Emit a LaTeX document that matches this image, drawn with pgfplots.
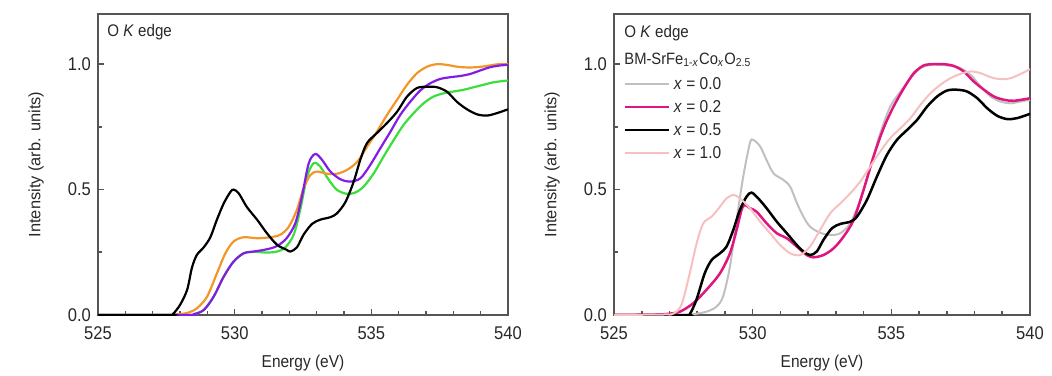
\documentclass[border=0pt]{standalone}
\usepackage{pgfplots}
\pgfplotsset{compat=1.18}
\usepackage{fontspec}
\setmainfont[FakeStretch=0.9]{Liberation Sans}
\newfontfamily\ylabfont{Liberation Sans}
\definecolor{cOr}{RGB}{243,150,42}
\definecolor{cPu}{RGB}{130,30,228}
\definecolor{cGr}{RGB}{60,222,60}
\definecolor{cGy}{RGB}{192,192,192}
\definecolor{cMa}{RGB}{224,22,128}
\definecolor{cPk}{RGB}{246,192,192}
\definecolor{cAx}{RGB}{85,85,85}
\definecolor{cTx}{RGB}{40,40,40}
\pgfplotsset{
  common/.style={
    scale only axis, height=150.5pt,
    xmin=525, xmax=540, ymin=0, ymax=1.2,
    xtick={525,530,535,540}, minor xtick={526,527,528,529,531,532,533,534,536,537,538,539},
    ytick={0,0.5,1}, minor ytick={0.25,0.75},
    xtick pos=left, ytick pos=left,
    tickwidth=3.2pt, subtickwidth=2.2pt,
    axis line style={draw=cAx, line width=0.75pt},
    tick style={draw=cAx, line width=0.8pt},
    /pgf/number format/assume math mode=true,
    x tick label style={/pgf/number format/set thousands separator={}, yshift=-2.5pt},
    y tick label style={/pgf/number format/.cd, fixed, fixed zerofill, precision=1, /tikz/.cd},
    tick label style={font=\fontsize{9.2}{10}\selectfont, text=cTx},
    xlabel={Energy (eV)}, ylabel={Intensity (arb. units)},
    xlabel style={font=\fontsize{8.6}{9}\selectfont, text=cTx, at={(axis description cs:0.5,-0.1595)}, anchor=center},
    ylabel style={font=\ylabfont\fontsize{8.2}{9}\selectfont, text=cTx, anchor=center},
  },
  every axis plot/.append style={smooth, tension=0.5, no markers},
}
\begin{document}
\begin{tikzpicture}
\useasboundingbox (0,0) rectangle (526pt,187.5pt);
% ---------------- left panel
\begin{axis}[common, width=205pt, at={(49pt,30pt)}, anchor=south west,
  ylabel style={at={(axis description cs:-0.151,0.5)}}]
\node[anchor=west, inner sep=0pt, font=\fontsize{8.4}{9}\selectfont, text=cTx] at ([xshift=4.5pt,yshift=-9pt]rel axis cs:0,1) {O \textit{K} edge};
\addplot[cGr, line width=1.1pt] coordinates {(525,0) (528.2,0) (528.5,0.003) (528.87,0.02) (529.23,0.073) (529.6,0.153) (529.96,0.213) (530.33,0.246) (530.7,0.252) (531.18,0.249) (531.55,0.253) (531.85,0.269) (532.16,0.32) (532.4,0.42) (532.65,0.552) (532.89,0.605) (533.13,0.592) (533.44,0.539) (533.74,0.499) (534.1,0.483) (534.41,0.488) (534.72,0.512) (535.09,0.565) (535.45,0.632) (535.82,0.698) (536.18,0.758) (536.55,0.805) (536.91,0.844) (537.28,0.871) (537.65,0.884) (538.01,0.891) (538.38,0.898) (538.74,0.908) (539.11,0.918) (539.48,0.928) (540,0.935)};
\addplot[cOr, line width=1.1pt] coordinates {(525,0) (527.5,0) (527.8,0.002) (528.26,0.008) (528.62,0.027) (528.99,0.073) (529.35,0.166) (529.66,0.246) (529.96,0.293) (530.33,0.31) (530.82,0.306) (531.3,0.31) (531.67,0.32) (531.98,0.352) (532.28,0.42) (532.52,0.505) (532.77,0.558) (533.01,0.572) (533.38,0.563) (533.74,0.563) (534.1,0.578) (534.48,0.61) (534.84,0.67) (535.2,0.73) (535.57,0.797) (535.94,0.858) (536.3,0.917) (536.67,0.964) (537.04,0.99) (537.4,1.0) (537.77,0.997) (538.13,0.99) (538.5,0.987) (538.87,0.988) (539.23,0.993) (539.66,1.0) (540,1.0)};
\addplot[cPu, line width=1.1pt] coordinates {(525,0) (528.2,0) (528.5,0.003) (528.87,0.02) (529.23,0.073) (529.6,0.153) (529.96,0.213) (530.33,0.246) (530.7,0.253) (531.18,0.262) (531.55,0.275) (531.9,0.306) (532.22,0.366) (532.46,0.472) (532.71,0.605) (532.95,0.642) (533.2,0.618) (533.5,0.572) (533.87,0.541) (534.23,0.532) (534.6,0.545) (534.96,0.598) (535.33,0.665) (535.7,0.731) (536.06,0.798) (536.43,0.851) (536.79,0.895) (537.16,0.924) (537.52,0.941) (537.89,0.948) (538.26,0.953) (538.62,0.961) (538.99,0.975) (539.35,0.988) (539.72,0.995) (540,0.997)};
\addplot[black, line width=1.1pt] coordinates {(525,0) (527.6,0) (527.75,0.005) (528.0,0.04) (528.26,0.10) (528.44,0.19) (528.62,0.24) (528.87,0.27) (529.11,0.31) (529.35,0.38) (529.6,0.445) (529.84,0.49) (529.96,0.50) (530.15,0.485) (530.45,0.43) (530.82,0.38) (531.18,0.326) (531.55,0.28) (531.9,0.26) (532.04,0.253) (532.28,0.27) (532.52,0.32) (532.83,0.363) (533.13,0.38) (533.5,0.39) (533.74,0.405) (534.05,0.45) (534.35,0.53) (534.6,0.62) (534.84,0.685) (535.2,0.725) (535.57,0.765) (535.94,0.81) (536.3,0.87) (536.67,0.905) (537.04,0.91) (537.4,0.908) (537.77,0.89) (538.13,0.85) (538.5,0.82) (538.87,0.80) (539.23,0.795) (539.6,0.805) (540,0.82)};
\end{axis}
% ---------------- right panel
\begin{axis}[common, width=208pt, at={(307pt,30pt)}, anchor=south west,
  ylabel style={at={(axis description cs:-0.149,0.5)}},
  legend cell align=left,
  legend image code/.code={\draw[#1, sharp plot] (0pt,0pt) -- (22pt,0pt);},
  legend style={at={(axis description cs:0,1)}, anchor=north west, xshift=4.5pt, yshift=-31pt,
    draw=none, fill=none, inner sep=0pt, row sep=4pt,
    font=\fontsize{8.6}{9}\selectfont, text=cTx,
    nodes={inner sep=0pt, text height=6.5pt, text depth=1pt},
    /tikz/every odd column/.append style={column sep=2pt}}]
\node[anchor=west, inner sep=0pt, font=\fontsize{8.4}{9}\selectfont, text=cTx] at ([xshift=5pt,yshift=-9.5pt]rel axis cs:0,1) {O \textit{K} edge};
\node[anchor=west, inner sep=0pt, font=\fontsize{8.2}{9}\selectfont, text=cTx] at ([xshift=5pt,yshift=-23pt]rel axis cs:0,1) {BM-SrFe\textsubscript{1-\textit{x}}Co\textsubscript{\textit{x}}O\textsubscript{2.5}};
\addplot[cGy, line width=1.0pt] coordinates {(525,0) (527.6,0) (527.85,0.003) (528.33,0.013) (528.69,0.033) (528.93,0.073) (529.18,0.193) (529.42,0.379) (529.66,0.552) (529.9,0.685) (530.02,0.698) (530.27,0.672) (530.5,0.618) (530.75,0.565) (531.1,0.539) (531.35,0.512) (531.6,0.445) (531.83,0.392) (532.07,0.352) (532.43,0.328) (532.8,0.319) (533.16,0.326) (533.52,0.366) (533.88,0.459) (534.24,0.592) (534.6,0.725) (534.96,0.831) (535.33,0.891) (535.69,0.944) (536.05,0.984) (536.41,0.997) (536.77,0.997) (537.13,0.993) (537.49,0.984) (537.86,0.957) (538.22,0.911) (538.58,0.871) (538.94,0.851) (539.3,0.844) (539.66,0.851) (540,0.858)};
\addlegendentry{\textit{x} = 0.0}
\addplot[cMa, line width=1.25pt] coordinates {(525,0) (526.5,0.002) (526.9,0.004) (527.37,0.013) (527.86,0.047) (528.33,0.1) (528.82,0.166) (529.18,0.246) (529.42,0.339) (529.6,0.419) (529.72,0.439) (529.9,0.426) (530.14,0.412) (530.5,0.366) (530.87,0.326) (531.23,0.306) (531.59,0.273) (531.95,0.239) (532.19,0.23) (532.55,0.239) (532.92,0.266) (533.28,0.313) (533.64,0.379) (534.0,0.499) (534.36,0.632) (534.72,0.745) (535.08,0.831) (535.45,0.904) (535.81,0.964) (536.17,0.995) (536.53,1.0) (536.89,1.0) (537.25,0.993) (537.61,0.971) (537.97,0.931) (538.34,0.898) (538.7,0.871) (539.06,0.858) (539.42,0.854) (540,0.864)};
\addlegendentry{\textit{x} = 0.2}
\addplot[black, line width=1.25pt] coordinates {(525,0) (527.6,0) (527.73,0.003) (527.97,0.06) (528.27,0.166) (528.52,0.219) (528.82,0.246) (529.06,0.273) (529.3,0.339) (529.54,0.419) (529.78,0.472) (529.96,0.488) (530.2,0.465) (530.5,0.426) (530.87,0.372) (531.23,0.326) (531.59,0.279) (531.83,0.253) (532.07,0.239) (532.31,0.253) (532.55,0.299) (532.86,0.346) (533.16,0.363) (533.52,0.372) (533.76,0.392) (534.12,0.459) (534.48,0.552) (534.84,0.638) (535.2,0.698) (535.57,0.738) (535.93,0.778) (536.29,0.831) (536.65,0.871) (537.01,0.895) (537.37,0.898) (537.73,0.891) (538.1,0.864) (538.46,0.824) (538.82,0.794) (539.18,0.781) (539.54,0.785) (540,0.802)};
\addlegendentry{\textit{x} = 0.5}
\addplot[cPk, line width=1.0pt] coordinates {(525,0) (526.8,0.002) (527.13,0.005) (527.43,0.04) (527.73,0.166) (527.98,0.286) (528.22,0.366) (528.52,0.392) (528.82,0.432) (529.06,0.465) (529.3,0.479) (529.54,0.465) (529.9,0.426) (530.27,0.372) (530.63,0.326) (530.99,0.279) (531.35,0.246) (531.71,0.239) (532.07,0.273) (532.43,0.339) (532.8,0.406) (533.16,0.445) (533.52,0.485) (533.88,0.532) (534.24,0.592) (534.6,0.652) (534.96,0.705) (535.33,0.745) (535.69,0.785) (536.05,0.838) (536.41,0.884) (536.77,0.918) (537.13,0.944) (537.49,0.961) (537.86,0.971) (538.22,0.964) (538.58,0.948) (538.94,0.94) (539.3,0.944) (539.66,0.961) (540,0.98)};
\addlegendentry{\textit{x} = 1.0}
\end{axis}
\end{tikzpicture}
\end{document}
